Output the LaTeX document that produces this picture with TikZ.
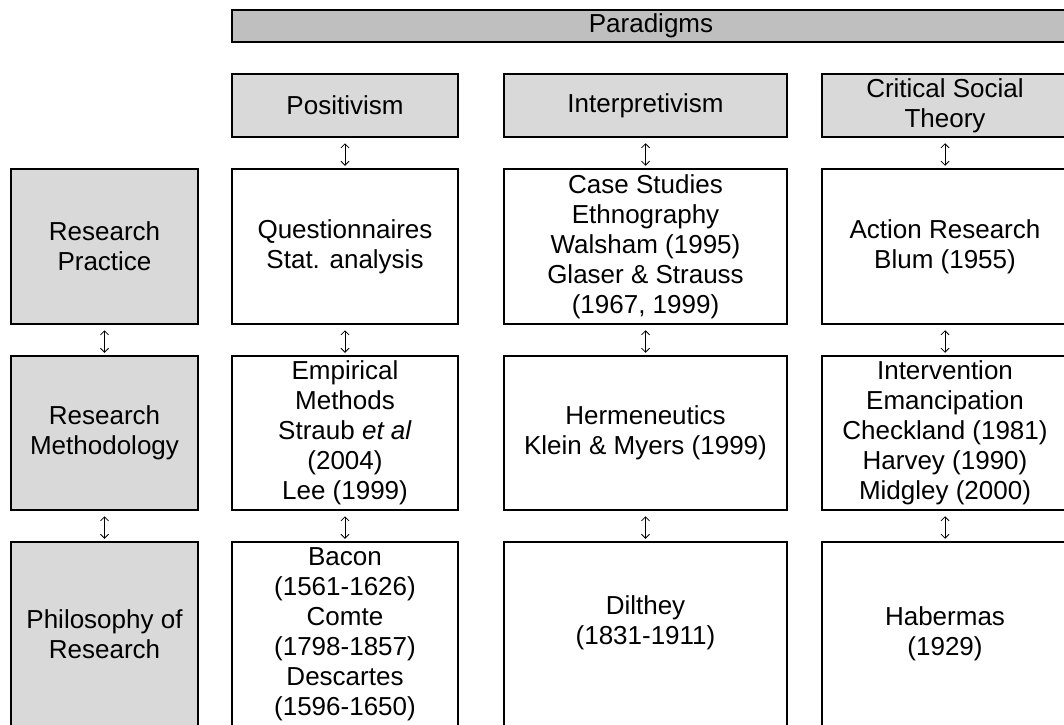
\documentclass[tikz,border=0pt]{standalone}
\usepackage{fontspec}
\setmainfont{Liberation Sans}
\usepackage{tikz}
\usetikzlibrary{shapes,arrows.meta,positioning}
\definecolor{bargray}{HTML}{BFBFBF}
\definecolor{headgray}{HTML}{D9D9D9}
\tikzstyle{box} = [rectangle, draw, line width=1.5pt, inner sep=0pt, align=center, font=\fontsize{26}{30}\selectfont]
\tikzstyle{hbox} = [box, fill=headgray]
\tikzstyle{pbox} = [box, fill=bargray]
\tikzstyle{line} = [draw, line width=0.8pt, {Straight Barb[length=4pt,width=8pt]}-{Straight Barb[length=4pt,width=8pt]}, shorten <=5.5pt, shorten >=2.5pt]

\begin{document}
\begin{tikzpicture}[x=1pt, y=-1pt]
			\useasboundingbox (0,0) rectangle (1064,724);
			\clip (0,0) rectangle (1064,724);
			\node [pbox, minimum width=838pt, minimum height=32pt] (para) at (651, 26) {Paradigms};
			
			\node [hbox, minimum width=226pt, minimum height=63pt] (pos) at (345, 105.5) {Positivism};
			\node [hbox, minimum width=283pt, minimum height=63pt] (interp) at (645.5, 105.5) {Interpretivism};
			\node [hbox, minimum width=246pt, minimum height=63pt] (cst) at (945, 105.5) {Critical Social\\Theory};
			
			\node [hbox, minimum width=187pt, minimum height=155pt] (rp) at (104.5, 246.5) {Research\\Practice};
			\node [box, minimum width=226pt, minimum height=155pt] (quest) at (345, 246.5) {Questionnaires\\Stat. analysis};
			\node [box, minimum width=283pt, minimum height=155pt] (cases) at (645.5, 246.5) {Case Studies\\Ethnography\\Walsham (1995)\\Glaser \& Strauss\\(1967, 1999)};
			\node [box, minimum width=246pt, minimum height=155pt] (action) at (945, 246.5) {Action Research\\Blum (1955)};
			
			\node [hbox, minimum width=187pt, minimum height=154pt] (rm) at (104.5, 433) {Research\\Methodology};
			\node [box, minimum width=226pt, minimum height=154pt] (empir) at (345, 433) {Empirical\\Methods\\Straub \textit{et al}\\(2004)\\Lee (1999)};
			\node [box, minimum width=283pt, minimum height=154pt] (herm) at (645.5, 433) {Hermeneutics\\Klein \& Myers (1999)};
			\node [box, minimum width=246pt, minimum height=154pt] (interv) at (945, 433) {Intervention\\Emancipation\\Checkland (1981)\\Harvey (1990)\\Midgley (2000)};
			
			\node [hbox, minimum width=187pt, minimum height=184pt] (pr) at (104.5, 634) {Philosophy of\\Research};
			\node [box, minimum width=226pt, minimum height=184pt] (bacon) at (345, 634) {Bacon\\(1561-1626)\\Comte\\(1798-1857)\\Descartes\\(1596-1650)};
			\node [box, minimum width=283pt, minimum height=184pt] (dilthey) at (645.5, 634) {Dilthey\\(1831-1911)\\[-12pt]\strut};
			\node [box, minimum width=246pt, minimum height=184pt] (haber) at (945, 634) {Habermas\\(1929)};
			
			\path [line] (pos) -- (quest);
			\path [line] (interp) -- (cases);
			\path [line] (cst) -- (action);
			\path [line] (rp) -- (rm);
			\path [line] (quest) -- (empir);
			\path [line] (cases) -- (herm);
			\path [line] (action) -- (interv);
			\path [line] (rm) -- (pr);
			\path [line] (empir) -- (bacon);
			\path [line] (herm) -- (dilthey);
			\path [line] (interv) -- (haber);
		\end{tikzpicture}
\end{document}
